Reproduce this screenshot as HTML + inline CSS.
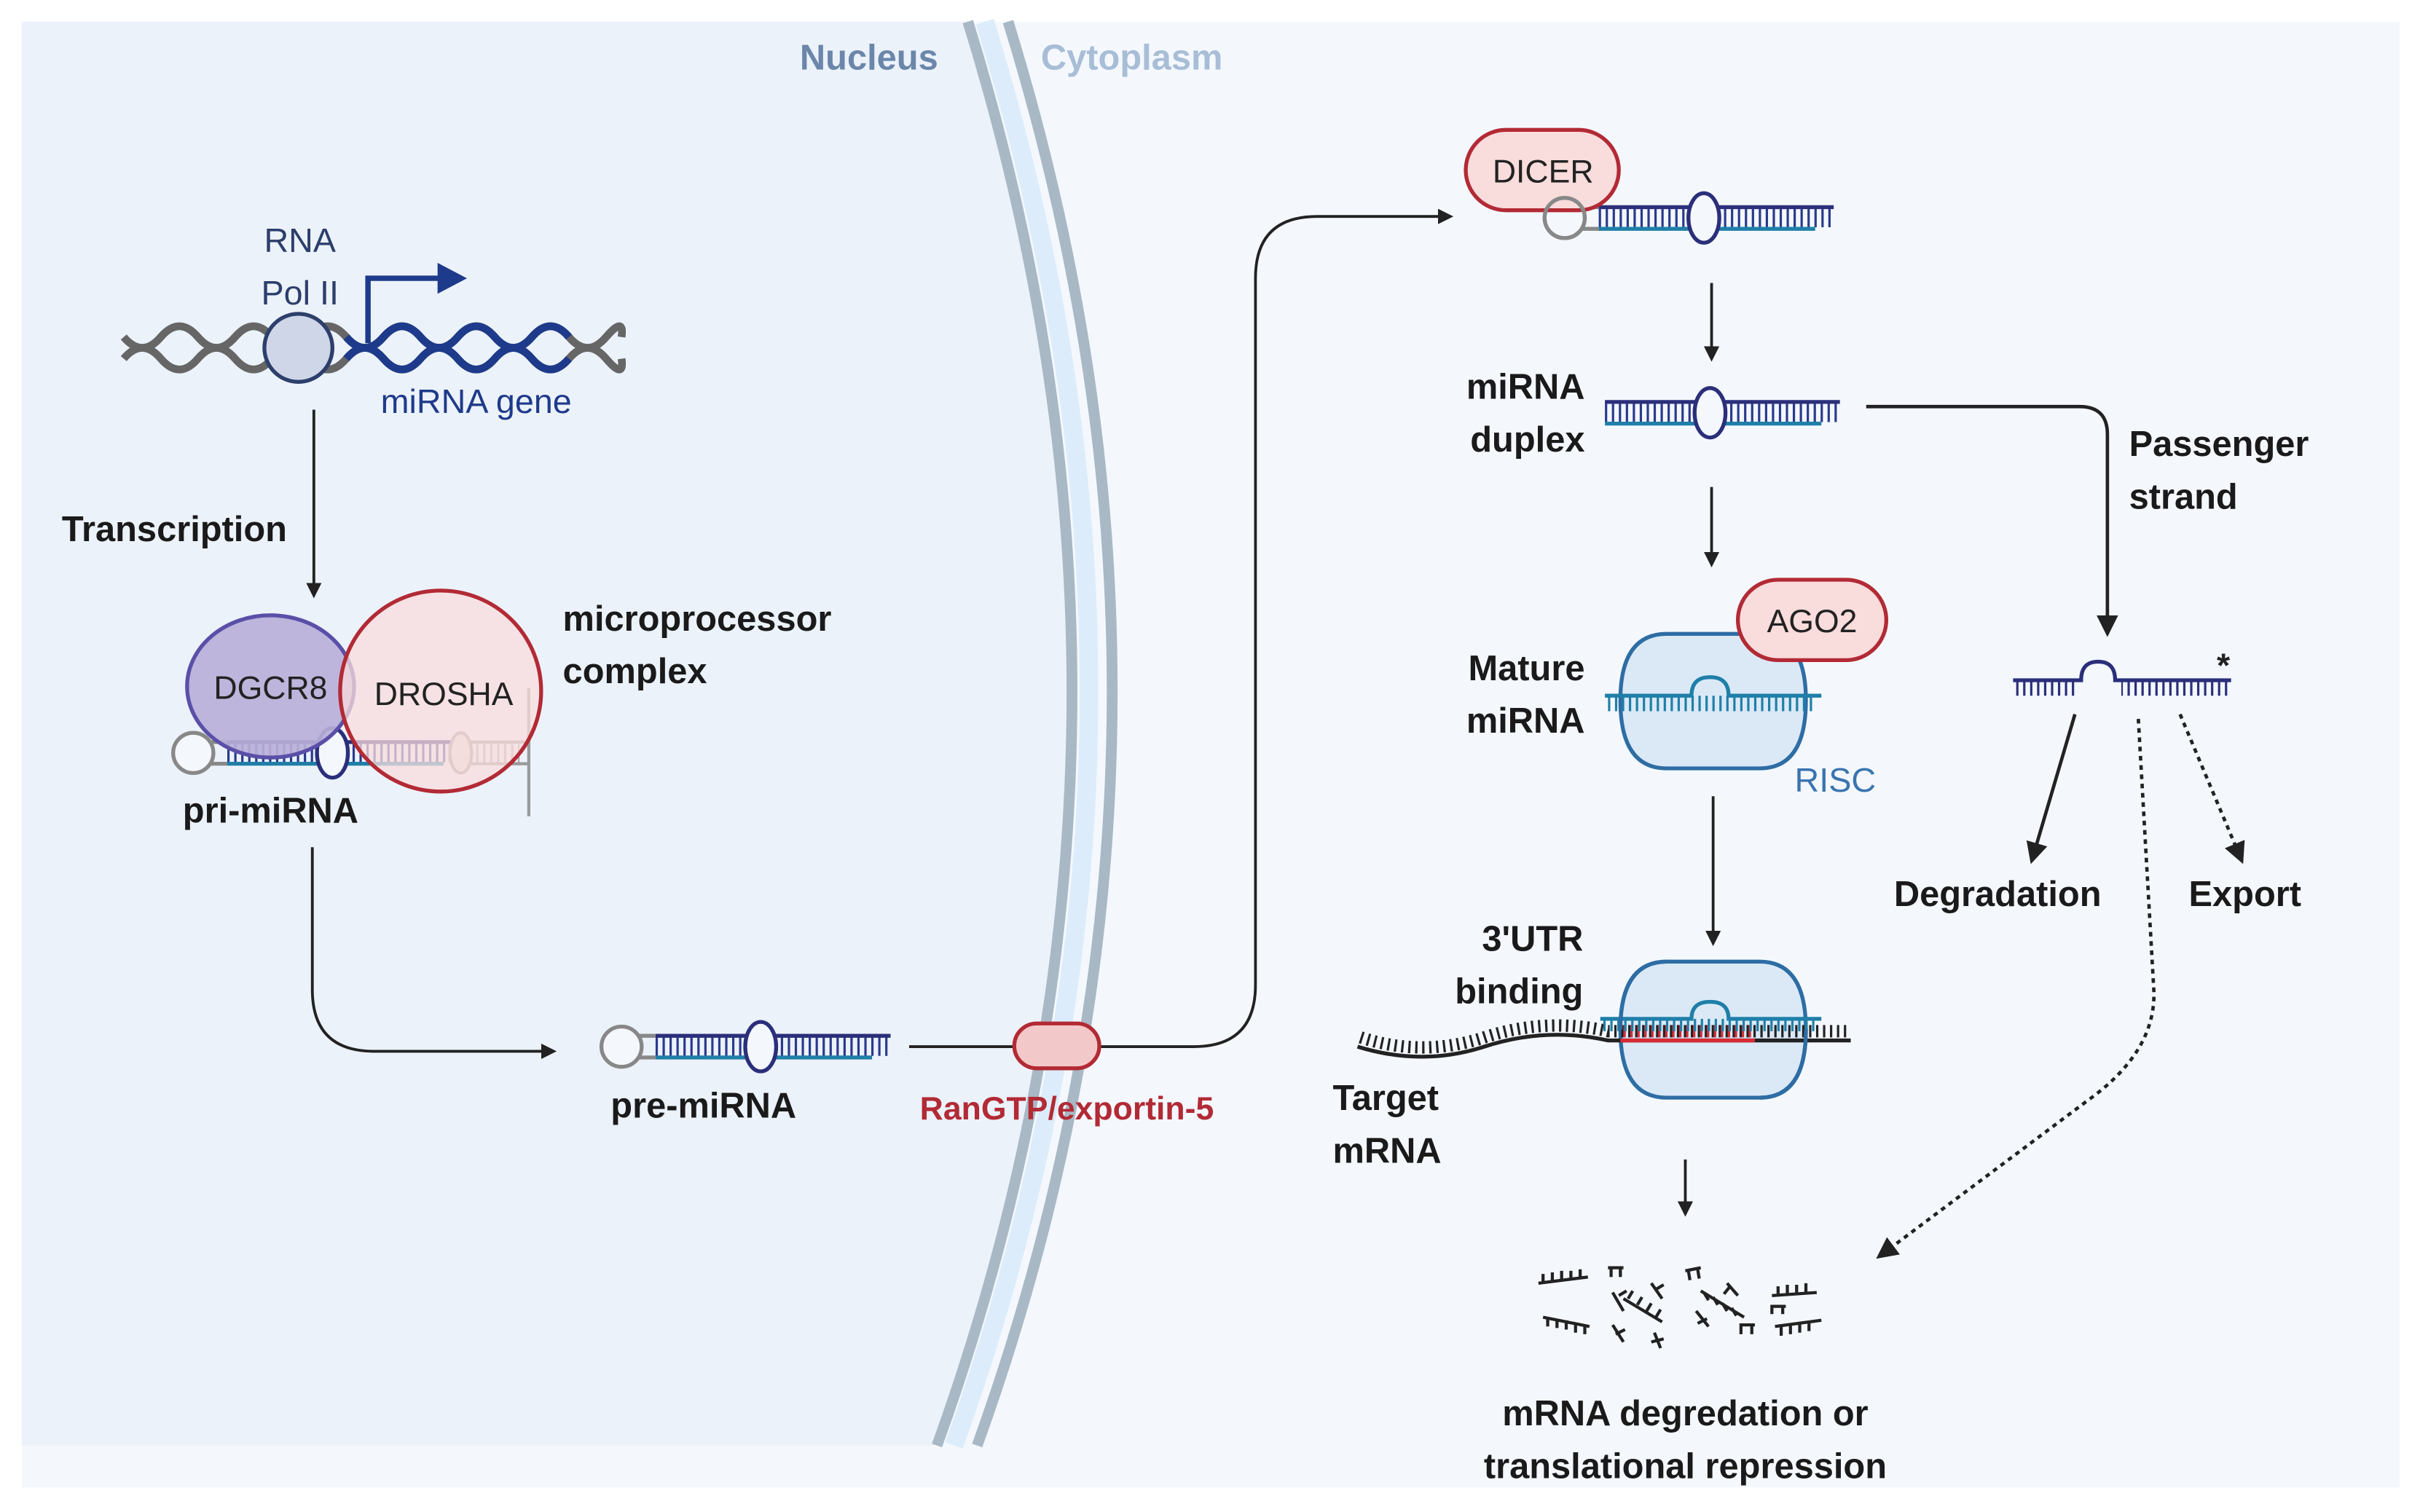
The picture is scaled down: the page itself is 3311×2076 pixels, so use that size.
<!DOCTYPE html>
<html><head><meta charset="utf-8"><style>
html,body{margin:0;padding:0;background:#fff;}
svg{display:block;}
text{font-family:"Liberation Sans",sans-serif;}
.b{font-weight:bold;font-size:23px;fill:#1a1a1a;}
</style></head><body>
<svg width="3311" height="2076" viewBox="0 0 1560 978" preserveAspectRatio="none" xmlns="http://www.w3.org/2000/svg">
<defs>
<marker id="ah" markerWidth="10" markerHeight="10" refX="8" refY="5" orient="auto" markerUnits="userSpaceOnUse"><path d="M0,0 L10,5 L0,10 z" fill="#222"/></marker>
<marker id="ah2" markerWidth="14" markerHeight="14" refX="12" refY="7" orient="auto" markerUnits="userSpaceOnUse"><path d="M0,0 L14,7 L0,14 z" fill="#222"/></marker>
<g id="duplex">
  <line x1="0" y1="0" x2="150" y2="0" stroke="#2a3a8c" stroke-width="12" stroke-dasharray="1.5 3"/>
  <line x1="0" y1="-7" x2="152" y2="-7" stroke="#2b2f7a" stroke-width="2.5"/>
  <line x1="0" y1="7" x2="140" y2="7" stroke="#1f7fa8" stroke-width="2.5"/>
  <ellipse cx="68" cy="0" rx="10" ry="16" fill="#f4f8fd" stroke="#2b2f7a" stroke-width="2.5"/>
</g>
<g id="hairpin">
  <circle cx="0" cy="0" r="13" fill="#f4f8fd" stroke="#888" stroke-width="2.5"/>
  <use href="#duplex" x="22"/>
  <line x1="11" y1="-7" x2="22" y2="-7" stroke="#888" stroke-width="2.5"/>
  <line x1="11" y1="7" x2="22" y2="7" stroke="#888" stroke-width="2.5"/>
</g>
</defs>
<rect x="14" y="14" width="1538" height="948" fill="#f4f8fd"/>
<path d="M14,14 L626,14 Q770,480 606,935 L14,935 z" fill="#ecf2fa"/>
<path d="M626,14 Q770,480 606,935" fill="none" stroke="#a9b8c5" stroke-width="7"/>
<path d="M652,14 Q796,480 632,935" fill="none" stroke="#a9b8c5" stroke-width="7"/>
<path d="M637,14 Q781,480 617,935" fill="none" stroke="#dcecfa" stroke-width="12"/>
<text x="562" y="45" font-size="23" font-weight="bold" fill="#6b86aa" text-anchor="middle">Nucleus</text>
<text x="732" y="45" font-size="23" font-weight="bold" fill="#a8bdd6" text-anchor="middle">Cytoplasm</text>

<path d="M80,218 q12,14 24,0 t24,0 t24,0 t24,0 t24,0 t24,0 t24,0 t24,0 t24,0 t24,0 t24,0 t24,0 t24,0 t10,0" fill="none" stroke="#666" stroke-width="5"/>
<path d="M80,232 q12,-14 24,0 t24,0 t24,0 t24,0 t24,0 t24,0 t24,0 t24,0 t24,0 t24,0 t24,0 t24,0 t24,0 t10,0" fill="none" stroke="#666" stroke-width="5"/>
<path d="M224,218 q12,14 24,0 t24,0 t24,0 t24,0 t24,0 t24,0" fill="none" stroke="#1e3a8a" stroke-width="5"/>
<path d="M224,232 q12,-14 24,0 t24,0 t24,0 t24,0 t24,0 t24,0" fill="none" stroke="#1e3a8a" stroke-width="5"/>
<circle cx="193" cy="225" r="22" fill="#cfd6e8" stroke="#2d3f6b" stroke-width="2.5"/>
<path d="M238,222 V180 H285" fill="none" stroke="#1e3a8a" stroke-width="3.5"/>
<path d="M283,170 L302,180 L283,190 z" fill="#1e3a8a"/>
<text x="194" y="163" font-size="22" fill="#2c3e6b" text-anchor="middle">RNA</text>
<text x="194" y="197" font-size="22" fill="#2c3e6b" text-anchor="middle">Pol II</text>
<text x="308" y="267" font-size="22" fill="#1e3a8a" text-anchor="middle">miRNA gene</text>

<line x1="203" y1="265" x2="203" y2="385" stroke="#222" stroke-width="1.8" marker-end="url(#ah)"/>
<text x="40" y="350" class="b">Transcription</text>

<use href="#hairpin" x="125" y="487"/>
<line x1="290" y1="487" x2="336" y2="487" stroke="#aaa" stroke-width="12" stroke-dasharray="1.5 3"/>
<line x1="295" y1="480" x2="342" y2="480" stroke="#999" stroke-width="2"/>
<line x1="300" y1="494" x2="342" y2="494" stroke="#999" stroke-width="2"/>
<line x1="342" y1="445" x2="342" y2="528" stroke="#999" stroke-width="2"/>
<ellipse cx="298" cy="487" rx="7" ry="13" fill="#ddd" stroke="#999" stroke-width="2"/>
<ellipse cx="175" cy="444" rx="54" ry="46" fill="#b8b0d8" fill-opacity="0.92" stroke="#5a4fa8" stroke-width="2.5"/>
<circle cx="285" cy="447" r="65" fill="#f9dcdc" fill-opacity="0.75" stroke="#b22a35" stroke-width="2.5"/>
<text x="175" y="452" font-size="21" fill="#222" text-anchor="middle">DGCR8</text>
<text x="287" y="456" font-size="21" fill="#222" text-anchor="middle">DROSHA</text>
<text x="364" y="408" class="b">microprocessor</text>
<text x="364" y="442" class="b">complex</text>
<text x="175" y="532" class="b" text-anchor="middle">pri-miRNA</text>

<path d="M202,548 V640 Q202,680 242,680 H358" fill="none" stroke="#222" stroke-width="1.8" marker-end="url(#ah)"/>
<use href="#hairpin" x="402" y="677"/>
<text x="455" y="723" class="b" text-anchor="middle">pre-miRNA</text>

<path d="M588,677 H772 Q812,677 812,637 V180 Q812,140 852,140 H938" fill="none" stroke="#222" stroke-width="1.8" marker-end="url(#ah)"/>
<rect x="656" y="662" width="55" height="29" rx="14.5" fill="#f3c8c8" stroke="#b22a35" stroke-width="2.5"/>
<text x="690" y="724" font-size="21" font-weight="bold" fill="#b22a35" text-anchor="middle">RanGTP/exportin-5</text>

<use href="#hairpin" x="1012" y="141"/>
<rect x="948" y="84" width="99" height="52" rx="26" fill="#f9dcdc" stroke="#b22a35" stroke-width="2.5"/>
<circle cx="1012" cy="141" r="13" fill="none" stroke="#888" stroke-width="2.5"/>
<text x="998" y="118" font-size="21" fill="#222" text-anchor="middle">DICER</text>

<line x1="1107" y1="183" x2="1107" y2="232" stroke="#222" stroke-width="1.8" marker-end="url(#ah)"/>
<use href="#duplex" x="1038" y="267"/>
<text x="1025" y="258" class="b" text-anchor="end">miRNA</text>
<text x="1025" y="292" class="b" text-anchor="end">duplex</text>

<path d="M1207,263 H1345 Q1363,263 1363,281 V410" fill="none" stroke="#222" stroke-width="2.2" marker-end="url(#ah2)"/>
<text x="1377" y="295" class="b">Passenger</text>
<text x="1377" y="329" class="b">strand</text>

<line x1="1107" y1="315" x2="1107" y2="365" stroke="#222" stroke-width="1.8" marker-end="url(#ah)"/>

<path d="M1078,410 H1138 Q1168,410 1168,453 Q1168,497 1138,497 H1078 Q1048,497 1048,453 Q1048,410 1078,410 z" fill="#dbe9f7" stroke="#2e6da4" stroke-width="2.5"/>
<line x1="1040" y1="455" x2="1175" y2="455" stroke="#1f7fa8" stroke-width="10" stroke-dasharray="1.5 3"/>
<path d="M1038,450 H1094 Q1094,438 1106,438 Q1118,438 1118,450 H1178" fill="none" stroke="#1f7fa8" stroke-width="2.5"/>
<rect x="1124" y="375" width="96" height="52" rx="26" fill="#f9dcdc" stroke="#b22a35" stroke-width="2.5"/>
<text x="1172" y="409" font-size="21" fill="#222" text-anchor="middle">AGO2</text>
<text x="1025" y="440" class="b" text-anchor="end">Mature</text>
<text x="1025" y="474" class="b" text-anchor="end">miRNA</text>
<text x="1187" y="512" font-size="22" fill="#3a74b0" text-anchor="middle">RISC</text>

<line x1="1304" y1="445" x2="1442" y2="445" stroke="#2b2f7a" stroke-width="10" stroke-dasharray="1.5 3"/>
<rect x="1342" y="438" width="30" height="14" fill="#f4f8fd"/>
<path d="M1302,440 H1346 Q1346,428 1357,428 Q1368,428 1368,440 H1443" fill="none" stroke="#2b2f7a" stroke-width="2.5"/>
<text x="1438" y="438" font-size="22" font-weight="bold" fill="#222" text-anchor="middle">*</text>
<line x1="1342" y1="462" x2="1314" y2="557" stroke="#222" stroke-width="2.2" marker-end="url(#ah2)"/>
<line x1="1410" y1="462" x2="1450" y2="557" stroke="#222" stroke-width="2.2" stroke-dasharray="3 3" marker-end="url(#ah2)"/>
<path d="M1383,465 L1393,640 Q1395,680 1350,712 L1215,813" fill="none" stroke="#222" stroke-width="2.2" stroke-dasharray="3 3" marker-end="url(#ah2)"/>
<text x="1292" y="586" class="b" text-anchor="middle">Degradation</text>
<text x="1452" y="586" class="b" text-anchor="middle">Export</text>

<line x1="1108" y1="515" x2="1108" y2="610" stroke="#222" stroke-width="1.8" marker-end="url(#ah)"/>

<path d="M1078,622 H1138 Q1168,622 1168,666 Q1168,710 1138,710 H1078 Q1048,710 1048,666 Q1048,622 1078,622 z" fill="#dbe9f7" stroke="#2e6da4" stroke-width="2.5"/>
<path d="M878,677 Q920,690 960,677 T1040,673 H1197" fill="none" stroke="#222" stroke-width="2.5"/>
<path d="M880,671 Q920,684 960,671 T1040,667 H1195" fill="none" stroke="#222" stroke-width="8" stroke-dasharray="1.5 3"/>
<line x1="1048" y1="673" x2="1135" y2="673" stroke="#d62b35" stroke-width="2.5"/>
<line x1="1050" y1="667" x2="1133" y2="667" stroke="#d62b35" stroke-width="8" stroke-dasharray="1.5 3"/>
<line x1="1037" y1="663" x2="1175" y2="663" stroke="#1f7fa8" stroke-width="8" stroke-dasharray="1.5 3"/>
<path d="M1035,659 H1094 Q1094,648 1106,648 Q1118,648 1118,659 H1178" fill="none" stroke="#1f7fa8" stroke-width="2.5"/>
<path d="M1048,666 Q1048,622 1078,622 M1168,666 Q1168,710 1138,710" fill="none" stroke="#2e6da4" stroke-width="2.5"/>
<text x="1024" y="615" class="b" text-anchor="end">3'UTR</text>
<text x="1024" y="649" class="b" text-anchor="end">binding</text>
<text x="862" y="718" class="b">Target</text>
<text x="862" y="752" class="b">mRNA</text>

<line x1="1090" y1="750" x2="1090" y2="785" stroke="#222" stroke-width="1.8" marker-end="url(#ah)"/>

<g stroke="#222" stroke-width="2" fill="none">
<path d="M995,830 L1027,826 M998,830 v-6 M1004,829 v-6 M1010,828 v-6 M1016,828 v-6 M1022,827 v-6"/>
<path d="M998,852 L1028,858 M1001,852 v6 M1007,853 v6 M1013,854 v6 M1019,856 v6 M1025,857 v6"/>
<path d="M1040,820 h10 M1042,820 v6 M1048,820 v6"/>
<path d="M1043,836 L1050,848 M1047,838 l5,-3"/>
<path d="M1050,840 L1075,855 M1053,840 l3,-5 M1059,844 l3,-5 M1065,848 l3,-5 M1071,852 l3,-5"/>
<path d="M1043,857 L1050,868 M1045,863 l6,-3"/>
<path d="M1068,830 L1075,840 M1071,834 l5,-3"/>
<path d="M1070,862 L1074,872 M1068,868 l8,-2"/>
<path d="M1090,822 l10,-2 M1092,822 l1,6 M1098,821 l1,6"/>
<path d="M1100,835 L1128,852 M1102,836 l3,5 M1108,839 l3,5 M1114,843 l3,5 M1120,846 l3,5"/>
<path d="M1097,848 L1105,858 M1098,856 l6,-3"/>
<path d="M1117,830 L1124,838 M1119,832 l-4,5"/>
<path d="M1125,857 h10 M1126,857 v6 M1133,857 v6"/>
<path d="M1146,838 L1175,836 M1150,838 v-6 M1156,837 v-6 M1162,837 v-6 M1168,836 v-6"/>
<path d="M1148,858 L1178,854 M1152,858 v6 M1158,857 v6 M1164,856 v6 M1170,855 v6"/>
<path d="M1145,845 h10 M1146,845 v5 M1153,845 v5"/>
</g>
<text x="1090" y="922" class="b" text-anchor="middle">mRNA degredation or</text>
<text x="1090" y="956" class="b" text-anchor="middle">translational repression</text>
</svg>
</body></html>
